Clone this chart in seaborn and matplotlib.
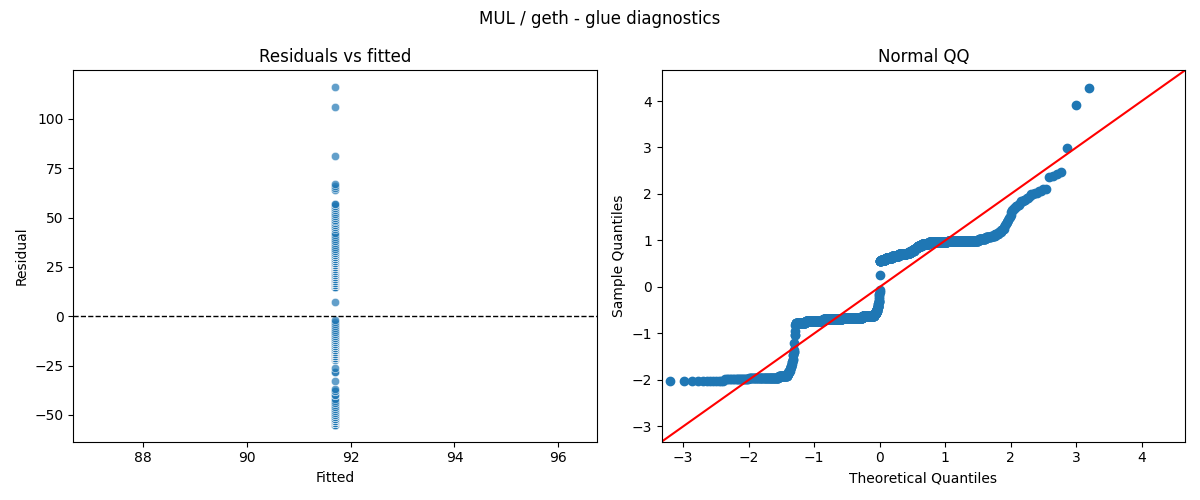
import numpy as np
import pandas as pd
import matplotlib
matplotlib.use("Agg")
import matplotlib.pyplot as plt
import seaborn as sns
from statistics import NormalDist

resid_levels = [-55, -54, -53, -52,
                -51, -50, -49, -48, -47, -46, -45, -44, -43, -42, -40, -38, -37, -33, -28, -26, -22,
                -21, -20, -19, -18, -17,
                -16, -15, -14, -13, -12, -11, -10, -9, -8, -7, -6, -5, -4, -3, -2,
                7,
                15, 16, 17, 18, 19, 20, 21, 22, 23, 24, 25,
                26, 27,
                28, 29, 30, 31, 32, 33, 34, 35,
                36, 37, 38, 39, 40, 41, 42, 44,
                45, 46, 47, 48, 49, 50, 51, 52, 53, 54, 55, 56, 57,
                64, 65, 66, 67,
                81, 106, 116]
resid_counts = [12, 20, 56, 26,
                3, 3, 2, 2, 2, 2, 1, 2, 1, 1, 2, 2, 1, 1, 2, 1, 1,
                42, 95, 130, 160, 100,
                12, 8, 6, 5, 4, 3, 2, 2, 2, 1, 1, 1, 1, 1, 1,
                1,
                10, 40, 57, 57, 65, 30, 27, 14, 14, 30, 50,
                110, 122,
                18, 12, 8, 6, 4, 3, 2, 1,
                1, 1, 2, 1, 1, 1, 1, 1,
                2, 2, 2, 2, 1, 2, 2, 2, 1, 2, 2, 2, 2,
                1, 1, 1, 1,
                1, 1, 1]
fitted_value = 91.7

resid = np.repeat(np.array(resid_levels, dtype=float), resid_counts)
df = pd.DataFrame({"fitted": fitted_value, "resid": resid})

# normal QQ: standardized residuals against normal plotting positions
n = len(resid)
sample_q = np.sort((resid - resid.mean()) / resid.std())
theo_q = np.array([NormalDist().inv_cdf(i / (n + 1)) for i in range(1, n + 1)])

fig, axes = plt.subplots(1, 2, figsize=(12, 5))

ax = axes[0]
sns.scatterplot(data=df, x="fitted", y="resid", alpha=0.7, ax=ax)
ax.axhline(0, color="black", linestyle="--", linewidth=1)
ax.set_xlabel("Fitted")
ax.set_ylabel("Residual")
ax.set_title("Residuals vs fitted")

ax = axes[1]
sns.scatterplot(x=theo_q, y=sample_q, s=36, color="C0", edgecolor="C0", linewidth=1, ax=ax)
ax.axline((0, 0), slope=1, color="r")
ax.set_xlim(-3.33, 4.66)
ax.set_ylim(-3.33, 4.66)
ax.set_xlabel("Theoretical Quantiles")
ax.set_ylabel("Sample Quantiles")
ax.set_title("Normal QQ")

fig.suptitle("MUL / geth - glue diagnostics")
fig.tight_layout()
fig.savefig("out.png", dpi=100)
